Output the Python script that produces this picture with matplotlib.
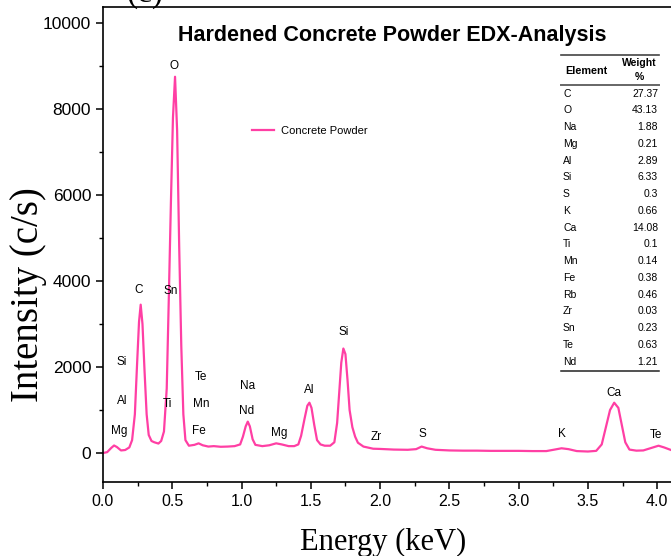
import matplotlib
matplotlib.use("Agg")
import matplotlib.pyplot as plt
from matplotlib.ticker import MultipleLocator
from matplotlib.lines import Line2D

# ---------------- data ----------------
energy_kev = [0.00, 0.03, 0.06, 0.08, 0.10, 0.13, 0.16, 0.19, 0.21, 0.23, 0.245, 0.26, 0.272,
              0.285, 0.30, 0.315, 0.33, 0.35, 0.37, 0.40, 0.42, 0.44, 0.46, 0.475, 0.49, 0.505,
              0.52, 0.535, 0.55, 0.565, 0.58, 0.595, 0.62, 0.66, 0.69, 0.72, 0.76, 0.80, 0.85,
              0.90, 0.95, 0.99, 1.01, 1.03, 1.045, 1.06, 1.08, 1.10, 1.15, 1.20, 1.25, 1.29,
              1.34, 1.38, 1.41, 1.43, 1.455, 1.475, 1.49, 1.505, 1.525, 1.545, 1.57, 1.60,
              1.64, 1.67, 1.69, 1.705, 1.72, 1.735, 1.75, 1.765, 1.78, 1.80, 1.82, 1.84, 1.88,
              1.95, 2.00, 2.10, 2.20, 2.26, 2.30, 2.34, 2.40, 2.50, 2.60, 2.70, 2.80, 2.90,
              3.00, 3.10, 3.20, 3.26, 3.31, 3.36, 3.42, 3.50, 3.56, 3.60, 3.63, 3.66, 3.69,
              3.72, 3.745, 3.77, 3.80, 3.85, 3.90, 3.95, 4.01, 4.05, 4.10]
intensity_cps = [0, 20, 120, 175, 140, 60, 70, 130, 300, 900, 2000, 3050, 3450,
                 3000, 1900, 900, 420, 280, 250, 220, 280, 500, 1500, 3600, 5800, 7800,
                 8750, 7500, 4800, 2500, 900, 300, 170, 190, 225, 180, 150, 160, 145,
                 150, 160, 200, 380, 620, 730, 620, 320, 190, 160, 180, 225, 200,
                 160, 160, 200, 400, 800, 1100, 1170, 1050, 650, 300, 200, 170,
                 170, 250, 700, 1400, 2100, 2430, 2300, 1700, 1000, 600, 380, 240, 150,
                 100, 95, 80, 75, 90, 150, 110, 75, 60, 55, 55, 50, 50,
                 50, 45, 45, 80, 110, 90, 45, 35, 50, 200, 600, 1000, 1170,
                 1050, 650, 250, 80, 55, 60, 110, 170, 130, 70]

peak_labels = ["O", "C", "Sn", "Si", "Al", "Mg", "Ti", "Te", "Mn", "Fe", "Na", "Nd",
               "Mg", "Al", "Si", "Zr", "S", "K", "Ca", "Te"]
peak_label_x = [0.513, 0.26, 0.49, 0.137, 0.137, 0.115, 0.462, 0.708, 0.708, 0.693,
                1.047, 1.033, 1.27, 1.487, 1.74, 1.97, 2.303, 3.314, 3.69, 3.99]
peak_label_y = [9000, 3790, 3770, 2116, 1210, 510, 1140, 1770, 1140, 510,
                1560, 980, 465, 1465, 2810, 372, 440, 440, 1395, 420]

table_elements = ["C", "O", "Na", "Mg", "Al", "Si", "S", "K", "Ca", "Ti", "Mn", "Fe",
                  "Rb", "Zr", "Sn", "Te", "Nd"]
table_weights = ["27.37", "43.13", "1.88", "0.21", "2.89", "6.33", "0.3", "0.66", "14.08",
                 "0.1", "0.14", "0.38", "0.46", "0.03", "0.23", "0.63", "1.21"]

x_ticks = [0.0, 0.5, 1.0, 1.5, 2.0, 2.5, 3.0, 3.5, 4.0]
y_ticks = [0, 2000, 4000, 6000, 8000, 10000]

# ---------------- figure ----------------
W, H = 671, 556
fig = plt.figure(figsize=(W / 100, H / 100), dpi=100)
ax_w_px, ax_h_px = W - 103, 482 - 7
ax = fig.add_axes([103 / W, 1 - 482 / H, ax_w_px / W, ax_h_px / H])

pink = "#ff3fa4"
ax.plot(energy_kev, intensity_cps, color=pink, lw=1.6, label="Concrete Powder")

ax.set_xlim(0, 4.10)
ax.set_ylim(-674, 10372)
ax.set_xticks(x_ticks)
ax.set_xticklabels([f"{v:.1f}" for v in x_ticks])
ax.set_yticks(y_ticks)
ax.xaxis.set_minor_locator(MultipleLocator(0.25))
ax.yaxis.set_minor_locator(MultipleLocator(1000))
ax.tick_params(which="major", direction="out", length=5, width=1.1,
               top=False, right=False)
ax.tick_params(which="minor", direction="out", length=3, width=1.0, top=False, right=False)
ax.tick_params(axis="x", which="major", labelsize=11.5)
ax.tick_params(axis="y", which="major", labelsize=12.5)
for lab in ax.get_xticklabels() + ax.get_yticklabels():
    lab.set_family("Liberation Sans")
ax.spines["right"].set_visible(False)
for s in ["left", "bottom", "top"]:
    ax.spines[s].set_linewidth(1.2)

ax.set_xlabel("Energy (keV)", family="Liberation Serif", fontsize=22)
ax.xaxis.set_label_coords((383 - 103) / ax_w_px, (482 - 528) / ax_h_px)
ax.set_ylabel("Intensity (c/s)", family="Liberation Serif", fontsize=28)
ax.yaxis.set_label_coords((47 - 103) / ax_w_px, (482 - 295) / ax_h_px)

ax.set_title("Hardened Concrete Powder EDX-Analysis", family="Liberation Sans",
             fontweight="bold", fontsize=15.5, x=(392 - 103) / ax_w_px,
             y=(482 - 35) / ax_h_px, va="center", pad=0)

for t, xx, yy in zip(peak_labels, peak_label_x, peak_label_y):
    ax.text(xx, yy, t, ha="center", va="center", fontsize=8.5, family="Liberation Sans")

leg = ax.legend(loc="upper left",
                bbox_to_anchor=((252 - 103) / ax_w_px, (482 - 127) / ax_h_px + 0.003),
                frameon=False, handlelength=2.0, handletextpad=0.6,
                borderaxespad=0.0, borderpad=0.0,
                prop={"family": "Liberation Sans", "size": 8})

# ---------------- table (figure pixel layout) ----------------
def fx(px):
    return px / W

def fy(py):
    return 1 - py / H

tl, tr = 561, 659
fig.add_artist(Line2D([fx(tl), fx(tr)], [fy(55), fy(55)], color="#444444", lw=1.2))
fig.add_artist(Line2D([fx(tl), fx(tr)], [fy(84.5), fy(84.5)], color="#666666", lw=1.4))
fig.add_artist(Line2D([fx(tl), fx(tr)], [fy(370.7), fy(370.7)], color="#222222", lw=1.1))
fig.text(fx(586), fy(71.5), "Element", ha="center", va="center", fontsize=7.8,
         fontweight="bold", family="Liberation Sans")
fig.text(fx(639), fy(63), "Weight", ha="center", va="center", fontsize=7.5,
         fontweight="bold", family="Liberation Sans")
fig.text(fx(639), fy(76.5), "%", ha="center", va="center", fontsize=7.5,
         fontweight="bold", family="Liberation Sans")
row0, drow = 93.7, 16.75
for i, (el, wt) in enumerate(zip(table_elements, table_weights)):
    yy = fy(row0 + i * drow)
    fig.text(fx(563), yy, el, ha="left", va="center", fontsize=7.5, family="Liberation Sans")
    fig.text(fx(658), yy, wt, ha="right", va="center", fontsize=7.5, family="Liberation Sans")

# partially cut panel tag at the top
fig.text(fx(145), fy(9), "(c)", ha="center", va="bottom", fontsize=24, family="Liberation Serif")

fig.savefig("out.png", dpi=100)
